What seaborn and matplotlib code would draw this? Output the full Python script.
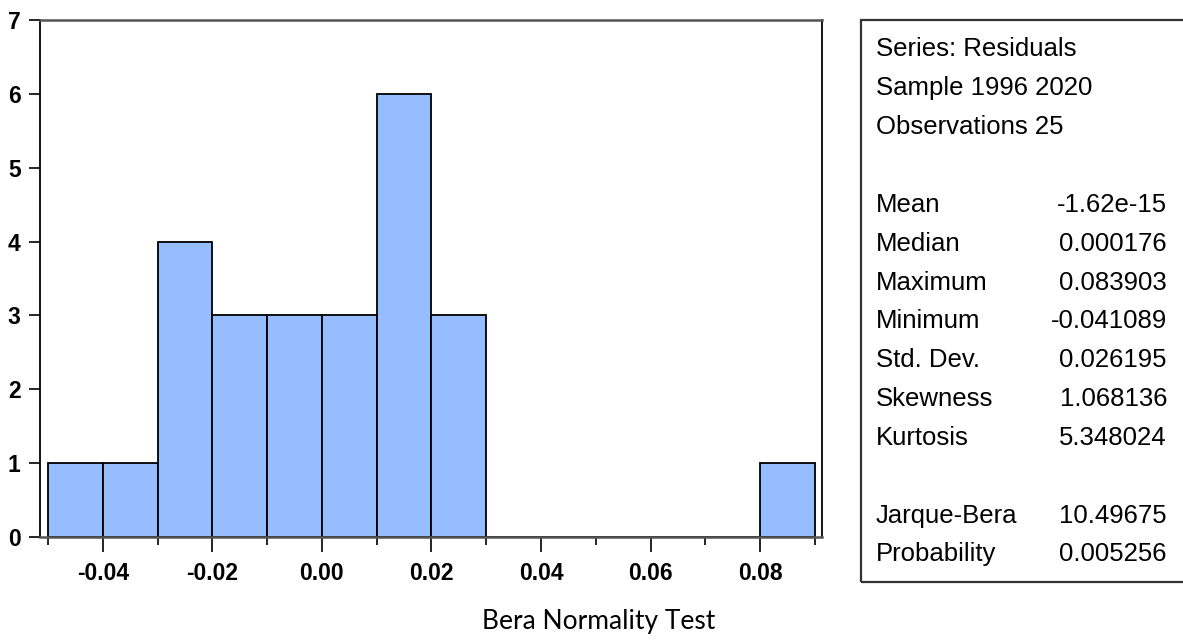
import numpy as np
import pandas as pd
import matplotlib
matplotlib.use("Agg")
import matplotlib.pyplot as plt
import seaborn as sns
from matplotlib.patches import Rectangle
from matplotlib.ticker import MultipleLocator

# histogram of residuals (bin edges and counts)
bin_edges = [-0.05, -0.04, -0.03, -0.02, -0.01, 0.00, 0.01, 0.02, 0.03,
             0.04, 0.05, 0.06, 0.07, 0.08, 0.09]
bin_counts = [1, 1, 4, 3, 3, 3, 6, 3, 0, 0, 0, 0, 0, 1]

# summary statistics box
head_lines = ["Series: Residuals", "Sample 1996 2020", "Observations 25"]
stat_names = ["Mean", "Median", "Maximum", "Minimum", "Std. Dev.", "Skewness", "Kurtosis"]
stat_values = ["-1.62e-15", "0.000176", "0.083903", "-0.041089", "0.026195", "1.068136", "5.348024"]
test_names = ["Jarque-Bera", "Probability"]
test_values = ["10.49675", "0.005256"]

title = "Bera Normality Test"

centers = [(a + b) / 2 for a, b in zip(bin_edges[:-1], bin_edges[1:])]
df = pd.DataFrame({"resid": centers, "count": bin_counts})

sns.set_style("white")
plt.rcParams["font.family"] = ["Liberation Sans", "DejaVu Sans"]
plt.rcParams["text.color"] = "black"
plt.rcParams["xtick.color"] = "black"
plt.rcParams["ytick.color"] = "black"

fig = plt.figure(figsize=(11.83, 6.4), dpi=100)
ax = fig.add_axes([40 / 1183, 1 - 537 / 640, 782 / 1183, 517 / 640])

sns.histplot(data=df, x="resid", weights="count", bins=bin_edges, ax=ax,
             color="#95bdff", alpha=1, edgecolor="black", linewidth=1.3)

ax.set_xlim(-0.05146, 0.09128)
ax.set_ylim(0, 7)
ax.set_xlabel("")
ax.set_ylabel("")
ax.xaxis.set_minor_locator(MultipleLocator(0.01))
ax.set_xticks([-0.04, -0.02, 0.0, 0.02, 0.04, 0.06, 0.08])
ax.set_xticklabels(["-0.04", "-0.02", "0.00", "0.02", "0.04", "0.06", "0.08"])
ax.set_yticks(range(0, 8))
ax.tick_params(axis="x", which="major", direction="out", length=11, width=1.2,
               bottom=True, labelsize=16.5, pad=7)
ax.tick_params(axis="x", which="minor", direction="out", length=6, width=1.2, bottom=True)
ax.tick_params(axis="y", direction="out", length=8, width=1.2, left=True,
               labelsize=16.5, pad=6)
for lab in ax.get_xticklabels() + ax.get_yticklabels():
    lab.set_fontweight("bold")

for side in ["left", "right"]:
    ax.spines[side].set_color("black")
    ax.spines[side].set_linewidth(1.3)
for side in ["top", "bottom"]:
    ax.spines[side].set_color("#555555")
    ax.spines[side].set_linewidth(1.8)

# stats box
fig.patches.append(Rectangle((861 / 1183, 1 - 582 / 640), 0.5, 562 / 640,
                             transform=fig.transFigure, fill=False,
                             edgecolor="#333333", linewidth=1.6))

def fy(py):
    return 1 - py / 640

lx = 876 / 1183
rx = 1167 / 1183
fs = 18.5
for i, t in enumerate(head_lines):
    fig.text(lx, fy(49 + i * 39.2), t, fontsize=fs, va="center", ha="left")
for i, (n, v) in enumerate(zip(stat_names, stat_values)):
    y = fy(205 + i * 38.8)
    fig.text(lx, y, n, fontsize=fs, va="center", ha="left")
    fig.text(rx, y, v, fontsize=fs, va="center", ha="right")
for i, (n, v) in enumerate(zip(test_names, test_values)):
    y = fy(516 + i * 38)
    fig.text(lx, y, n, fontsize=fs, va="center", ha="left")
    fig.text(rx, y, v, fontsize=fs, va="center", ha="right")

fig.text(599 / 1183, fy(621), title, fontsize=19, ha="center", va="center",
         family=["Lato", "DejaVu Sans"])

fig.savefig("out.png", dpi=100)
